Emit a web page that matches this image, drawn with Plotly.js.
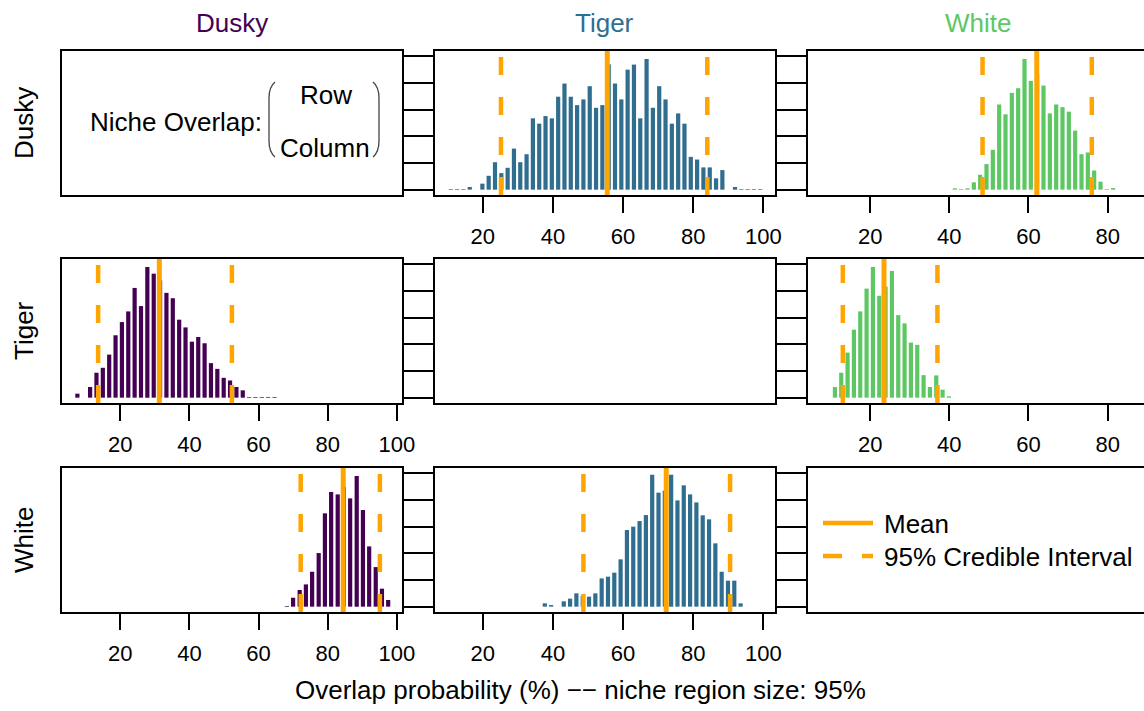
<!DOCTYPE html>
<html><head><meta charset="utf-8">
<script src="https://cdn.plot.ly/plotly-3.0.1.min.js"></script>
<style>html,body{margin:0;padding:0;overflow:hidden;background:#fff}#chart{width:1148px;height:711px}</style>
</head><body><div id="chart"></div>
<script>
// ---------- data ----------
const speciesNames = ["Dusky", "Tiger", "White"];
const speciesColors = ["#440154", "#2f6e8e", "#5dc863"];
const xTickVals = [20, 40, 60, 80, 100];
const yTickVals = [0, 20, 40, 60, 80, 100];
const xTitle = "Overlap probability (%) \u2212\u2212 niche region size: 95%";
const legendLabels = ["Mean", "95% Credible Interval"];

// row Dusky, column Tiger
const dtX = [10.9,12.7,14.5,16.3,18.1,19.9,21.7,23.5,25.3,27.1,28.9,30.7,32.5,34.3,36.1,37.9,39.7,41.5,43.3,45.1,46.9,48.7,50.5,52.3,54.1,55.9,57.7,59.5,61.3,63.1,64.9,66.7,68.5,70.3,72.1,73.9,75.7,77.5,79.3,81.1,82.9,84.7,86.5,88.3,90.1,91.9,93.7,95.5,97.3,99.1];
const dtY = [0.5,0.5,0.5,2,0,4.5,10.4,20.6,12.4,16.4,30.8,20.6,26.6,53.5,49.5,55.2,53.5,69.7,79.6,69.7,63.4,67.7,77.6,61.4,63.4,94,79.6,67.7,90,93.8,53.5,98,61.4,77.6,67.7,49.5,57.2,49.5,24.6,22.6,16.7,16.7,8.5,14.7,0,2,0.5,0.5,0.5,0.5];
const dtStats = [25.2, 55.5, 84.0];   // lower CI, mean, upper CI

// row Dusky, column White
const dwX = [41.4,43.0,44.6,46.2,47.8,49.4,51.0,52.6,54.2,55.8,57.4,59.0,60.6,62.2,63.8,65.4,67.0,68.6,70.2,71.8,73.4,75.0,76.6,78.2,79.8,81.4];
const dwY = [1,0.5,1,5.5,11.2,19.2,29.9,63.9,56.5,72.6,76.1,98,81.6,87.1,78.1,57.2,63.9,61.9,58.5,44.3,26.6,27.9,14.4,6,0.5,1.2];
const dwStats = [48.4, 62.1, 76.0];

// row Tiger, column Dusky
const tdX = [7.6,9.44,11.28,13.12,14.96,16.8,18.64,20.48,22.32,24.16,26.0,27.84,29.68,31.52,33.36,35.2,37.04,38.88,40.72,42.56,44.4,46.24,48.08,49.92,51.76,53.6,55.44,57.28,59.12,60.96,62.8,64.64];
const tdY = [3,0,8,18.7,22.4,32.3,46.8,56.7,64.7,82.3,68.7,98,93,88,78.6,74.6,58.5,52.7,42,45.5,40.8,25.9,21.6,14.9,12.9,8,5.5,0.5,0.5,0.5,0.5,0.5];
const tdStats = [13.6, 31.3, 52.3];

// row Tiger, column White
const twX = [11.1,12.7,14.3,15.9,17.5,19.1,20.7,22.3,23.9,25.5,27.1,28.7,30.3,31.9,33.5,35.1,36.7,38.3,39.9];
const twY = [8,18.7,33.8,51,64.7,81.8,98,76.4,83.3,95,61.9,55.7,41.3,39.6,16.9,8,16.7,6,1];
const twStats = [13.1, 23.5, 37.0];

// row White, column Dusky
const wdX = [68.2,70.0,71.9,73.7,75.5,77.4,79.2,81.0,82.9,84.7,86.5,88.4,90.2,92.0,93.9,95.7,97.5];
const wdY = [0.5,6.7,12.5,16.7,26.2,40.2,70,86,84.2,89.7,81.2,98,72.5,45.2,29.7,13.5,5];
const wdStats = [72.2, 84.5, 95.1];

// row White, column Tiger
const wtX = [37.7,39.5,41.3,43.1,44.9,46.7,48.5,50.3,52.1,53.9,55.7,57.5,59.3,61.1,62.9,64.7,66.5,68.3,70.1,71.9,73.7,75.5,77.3,79.1,80.9,82.7,84.5,86.3,88.1,89.9,91.7,93.5];
const wtY = [2.5,1.2,0,4,6,10,8,7.5,10,21.2,22.5,25.5,35.5,57.5,60,64.2,68.7,99,85.5,87,99,79.7,91,84.2,78.2,68.5,65.5,47.5,26.2,19.5,19.5,2.5];
const wtStats = [48.7, 72.3, 90.5];

// ---------- layout helpers ----------
const W = 1148, H = 711;
const colPx = [[62, 402], [435, 775], [808, 1148]];
const rowPx = [[51, 195], [259, 403], [468, 612]];
const colRanges = [[3.15, 101.5], [6.4, 103.3], [4.3, 90.2]];
const yRange = [-4, 104];
const FONT = "Liberation Sans, Arial, Helvetica, sans-serif";
const ORANGE = "#FFA500";
const fx = p => p / W;
const fy = p => 1 - p / H;

const panels = [
  {r: 0, c: 1, x: dtX, y: dtY, s: dtStats},
  {r: 0, c: 2, x: dwX, y: dwY, s: dwStats},
  {r: 1, c: 0, x: tdX, y: tdY, s: tdStats},
  {r: 1, c: 2, x: twX, y: twY, s: twStats},
  {r: 2, c: 0, x: wdX, y: wdY, s: wdStats},
  {r: 2, c: 1, x: wtX, y: wtY, s: wtStats}
];

const layout = {
  width: W, height: H,
  margin: {l: 0, r: 0, t: 0, b: 0},
  showlegend: false,
  paper_bgcolor: "#fff", plot_bgcolor: "#fff",
  font: {family: FONT, color: "#000"},
  annotations: [], shapes: []
};
const traces = [];

for (let r = 0; r < 3; r++) {
  for (let c = 0; c < 3; c++) {
    const n = r * 3 + c + 1;
    const sfx = n > 1 ? String(n) : "";
    const p = panels.find(q => q.r === r && q.c === c);
    const has = !!p;
    layout["xaxis" + sfx] = {
      domain: [fx(colPx[c][0]), fx(colPx[c][1])],
      anchor: "y" + sfx,
      range: (r === 0 && c === 0) ? [0, 340] : colRanges[c],
      showline: true, linewidth: 2, linecolor: "#000", mirror: true,
      showgrid: false, zeroline: false,
      ticks: has ? "outside" : "", tickvals: xTickVals,
      ticklen: 16, tickwidth: 2, tickcolor: "#000",
      showticklabels: has, tickfont: {size: 22, family: FONT, color: "#000"},
      ticklabelstandoff: 5, fixedrange: true
    };
    layout["yaxis" + sfx] = {
      domain: [fy(rowPx[r][1]), fy(rowPx[r][0])],
      anchor: "x" + sfx,
      range: yRange,
      side: c === 0 ? "right" : "left",
      mirror: c === 1 ? "ticks" : true,
      showline: true, linewidth: 2, linecolor: "#000",
      showgrid: false, zeroline: false,
      ticks: "outside", tickvals: yTickVals, ticklen: 17, tickwidth: 2, tickcolor: "#000",
      showticklabels: false, fixedrange: true
    };
    if (has) {
      const pxPerUnit = (colPx[c][1] - colPx[c][0]) / (colRanges[c][1] - colRanges[c][0]);
      traces.push({
        type: "bar", x: p.x, y: p.y, xaxis: "x" + sfx, yaxis: "y" + sfx,
        width: 4.2 / pxPerUnit,
        marker: {color: speciesColors[c], line: {width: 0}},
        hoverinfo: "x+y"
      });
      [0, 1, 2].forEach(k => {
        layout.shapes.push({
          type: "line", xref: "x" + sfx, yref: "y" + sfx + " domain",
          x0: p.s[k], x1: p.s[k], y0: 0, y1: 1,
          line: {color: ORANGE, width: k === 1 ? 5 : 4.5, dash: k === 1 ? "solid" : "18px,22px"},
          layer: "above"
        });
      });
    } else {
      // empty trace so the (text / blank / legend) panel frame is drawn
      traces.push({type: "scatter", mode: "markers", x: [null], y: [null],
        xaxis: "x" + sfx, yaxis: "y" + sfx, hoverinfo: "skip"});
    }
  }
}

// column titles & row titles
speciesNames.forEach((nm, i) => {
  layout.annotations.push({
    xref: "paper", yref: "paper",
    x: fx((colPx[i][0] + colPx[i][1]) / 2), y: fy(23),
    xanchor: "center", yanchor: "middle", showarrow: false,
    text: nm, font: {size: 26, color: speciesColors[i], family: FONT}
  });
  layout.annotations.push({
    xref: "paper", yref: "paper",
    x: fx(24), y: fy((rowPx[i][0] + rowPx[i][1]) / 2),
    xanchor: "center", yanchor: "middle", showarrow: false, textangle: -90,
    text: nm, font: {size: 26, color: "#000", family: FONT}
  });
});

// x title
layout.annotations.push({
  xref: "paper", yref: "paper", x: fx(580), y: fy(690),
  xanchor: "center", yanchor: "middle", showarrow: false,
  text: xTitle, font: {size: 26, color: "#000", family: FONT}
});

// niche overlap key (top-left panel)
layout.annotations.push({
  xref: "paper", yref: "paper", x: fx(264), y: fy(122),
  xanchor: "right", yanchor: "middle", showarrow: false,
  text: "Niche Overlap:", font: {size: 26, color: "#000", family: FONT}
});
layout.annotations.push({
  xref: "paper", yref: "paper", x: fx(326), y: fy(95),
  xanchor: "center", yanchor: "middle", showarrow: false,
  text: "Row", font: {size: 26, color: "#000", family: FONT}
});
layout.annotations.push({
  xref: "paper", yref: "paper", x: fx(325), y: fy(148),
  xanchor: "center", yanchor: "middle", showarrow: false,
  text: "Column", font: {size: 26, color: "#000", family: FONT}
});
function pt(x, y) { return fx(x).toFixed(5) + "," + fy(y).toFixed(5); }
const leftParen = "M" + pt(275, 82) + " Q" + pt(269, 87) + " " + pt(269, 98) + " L" + pt(269, 141) + " Q" + pt(269, 152) + " " + pt(275, 157);
const rightParen = "M" + pt(373, 82) + " Q" + pt(379, 87) + " " + pt(379, 98) + " L" + pt(379, 141) + " Q" + pt(379, 152) + " " + pt(373, 157);
[leftParen, rightParen].forEach(path => layout.shapes.push({
  type: "path", xref: "paper", yref: "paper", path: path,
  line: {color: "#444", width: 1.3}
}));

// legend (bottom-right panel)
layout.shapes.push({type: "line", xref: "paper", yref: "paper",
  x0: fx(823), x1: fx(873), y0: fy(523), y1: fy(523),
  line: {color: ORANGE, width: 4.5}});
layout.shapes.push({type: "line", xref: "paper", yref: "paper",
  x0: fx(823), x1: fx(873), y0: fy(556), y1: fy(556),
  line: {color: ORANGE, width: 4.5, dash: "19px,20px"}});
legendLabels.forEach((t, i) => layout.annotations.push({
  xref: "paper", yref: "paper", x: fx(882), y: fy(i === 0 ? 524 : 557),
  xanchor: "left", yanchor: "middle", showarrow: false,
  text: t, font: {size: 26, color: "#000", family: FONT}
}));

Plotly.newPlot("chart", traces, layout, {displayModeBar: false, staticPlot: true});
</script>
</body></html>
